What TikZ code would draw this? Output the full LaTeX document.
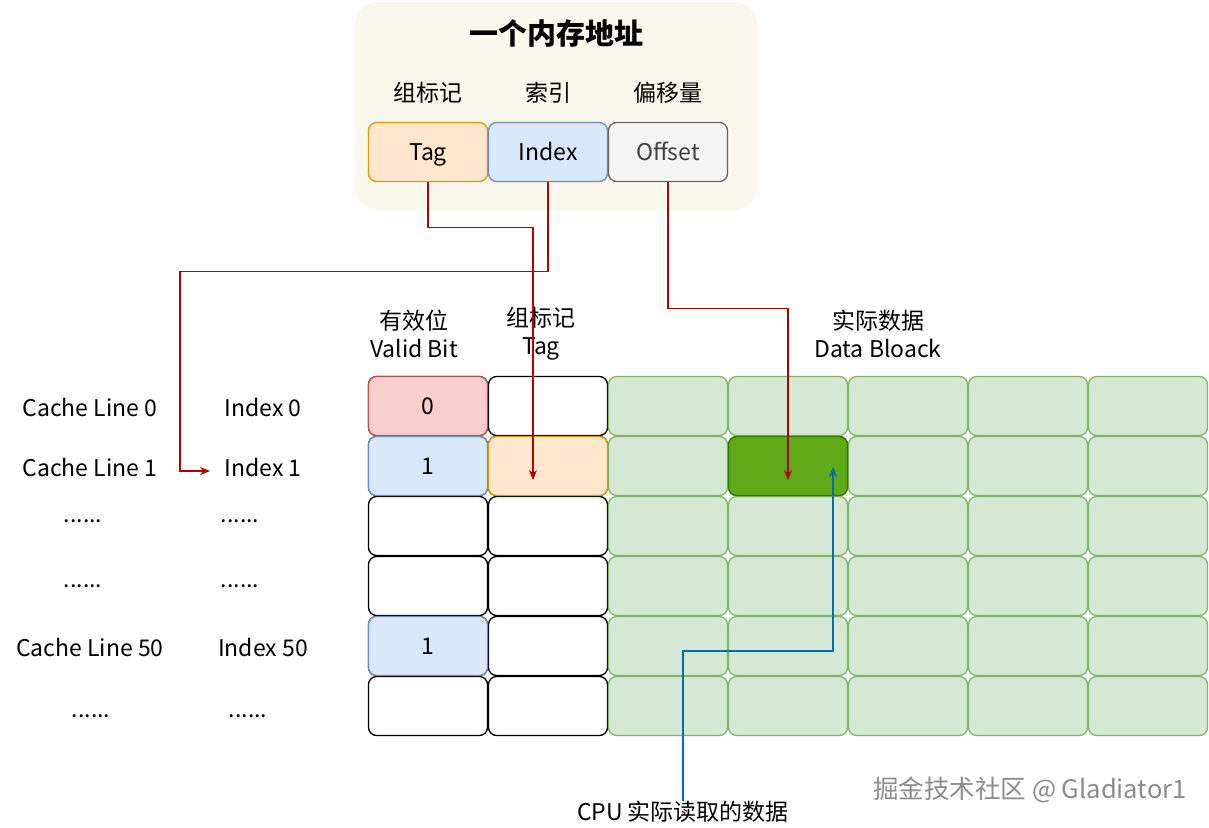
\documentclass[tikz,border=0pt]{standalone}
\usepackage{fontspec}
\setmainfont{Noto Sans CJK SC}
\usetikzlibrary{arrows.meta,calc}
\definecolor{beige}{HTML}{FAF7EC}
\definecolor{orfill}{HTML}{FFE6CC}
\definecolor{ordraw}{HTML}{D79B00}
\definecolor{blfill}{HTML}{DAE8FC}
\definecolor{bldraw}{HTML}{6C8EBF}
\definecolor{gyfill}{HTML}{F5F5F5}
\definecolor{gydraw}{HTML}{666666}
\definecolor{rdfill}{HTML}{F8CECC}
\definecolor{rddraw}{HTML}{B85450}
\definecolor{gnfill}{HTML}{D5E8D4}
\definecolor{gndraw}{HTML}{82B366}
\definecolor{dgfill}{HTML}{60A917}
\definecolor{dgdraw}{HTML}{2D7600}
\definecolor{arrred}{HTML}{B20000}
\definecolor{arrblue}{HTML}{006EAF}
\begin{document}
\begin{tikzpicture}[x=1pt,y=-1pt,
  txt/.style={font=\fontsize{23}{28}\selectfont, align=center, inner sep=0},
  cell/.style={draw, rounded corners=8pt, minimum width=119pt, minimum height=59pt, line width=1.3pt, inner sep=0, font=\fontsize{23}{26}\selectfont, text height=19pt, text depth=2pt},
  wcell/.style={cell, fill=white, draw=black},
  ocell/.style={cell, fill=orfill, draw=ordraw},
  bcell/.style={cell, fill=blfill, draw=bldraw},
  gcell/.style={cell, fill=gyfill, draw=gydraw},
  rcell/.style={cell, fill=rdfill, draw=rddraw},
  ncell/.style={cell, fill=gnfill, draw=gndraw},
  dcell/.style={cell, fill=dgfill, draw=dgdraw},
  redarr/.style={draw=arrred, line width=1.3pt, -{Stealth[length=10pt,width=8pt]}},
  bluearr/.style={draw=arrblue, line width=1.3pt, -{Stealth[length=10pt,width=8pt]}}
]
\useasboundingbox (0,0) rectangle (1209,827);

% address box
\node[fill=beige, rounded corners=22pt, minimum width=402pt, minimum height=208pt, inner sep=0] (addr) at (556,106) {};
\node[txt, font=\fontsize{29}{32}\selectfont\bfseries] (title) at (556,33) {一个内存地址};
\node[txt] (lt) at (428,93) {组标记};
\node[txt] (li) at (548,93) {索引};
\node[txt] (lo) at (668,93) {偏移量};
\node[ocell] (tagA) at (428,152) {Tag};
\node[bcell] (idxA) at (548,152) {Index};
\node[gcell, text=black!75] (offA) at (668,152) {Offset};

% headers
\node[txt] (hv) at (414,334) {有效位\\Valid Bit};
\node[txt] (ht) at (541,334) {组标记\\Tag};
\node[txt] (hd) at (878,334) {实际数据\\Data Bloack};

% grid
\foreach \r in {0,...,5} {
  \pgfmathsetmacro{\yy}{406+60*\r}
  \node[wcell] (v\r) at (428,\yy) {};
  \node[wcell] (t\r) at (548,\yy) {};
  \foreach \c in {0,...,4} {
    \pgfmathsetmacro{\xx}{668+120*\c}
    \node[ncell] (d\c\r) at (\xx,\yy) {};
  }
}
\node[rcell] (v0) at (428,406) {0};
\node[bcell] (v1) at (428,466) {1};
\node[bcell] (v4) at (428,646) {1};
\node[ocell] (t1) at (548,466) {};
\node[dcell] (d11) at (788,466) {};

% left labels
\node[txt] (cl0) at (90,407) {Cache Line 0};
\node[txt] (ix0) at (263,407) {Index 0};
\node[txt] (cl1) at (90,467) {Cache Line 1};
\node[txt] (ix1) at (263,467) {Index 1};
\node[txt] (cl2) at (83,521) {......};
\node[txt] (ix2) at (240,521) {......};
\node[txt] (cl3) at (83,586) {......};
\node[txt] (ix3) at (240,586) {......};
\node[txt] (cl4) at (90,647) {Cache Line 50};
\node[txt] (ix4) at (263,647) {Index 50};
\node[txt] (cl5) at (91,716) {......};
\node[txt] (ix5) at (248,716) {......};

% CPU label and watermark
\node[txt] (cpu) at (683,812) {CPU 实际读取的数据};
\node[txt, font=\fontsize{25.5}{28}\selectfont, text=black!45] (wm) at (1030,790) {掘金技术社区 @ Gladiator1};

% connectors
\coordinate (tagEnd) at ($(t1.center)+(-15,14)$);
\draw[redarr] (tagA.south) -- ++(0,45) -| (tagEnd);
\coordinate (idxEnd) at ($(ix1.center)+(-53,4)$);
\draw[redarr] (idxA.south) -- ++(0,89) -| ($(idxEnd)+(-30,0)$) -- (idxEnd);
\coordinate (offEnd) at ($(d11.center)+(0,14)$);
\draw[redarr] (offA.south) -- ++(0,126) -| (offEnd);
\coordinate (cpuEnd) at ($(d11.center)+(45,1)$);
\draw[bluearr] (cpu.north) -- ++(0,-150) -| (cpuEnd);
\end{tikzpicture}
\end{document}
